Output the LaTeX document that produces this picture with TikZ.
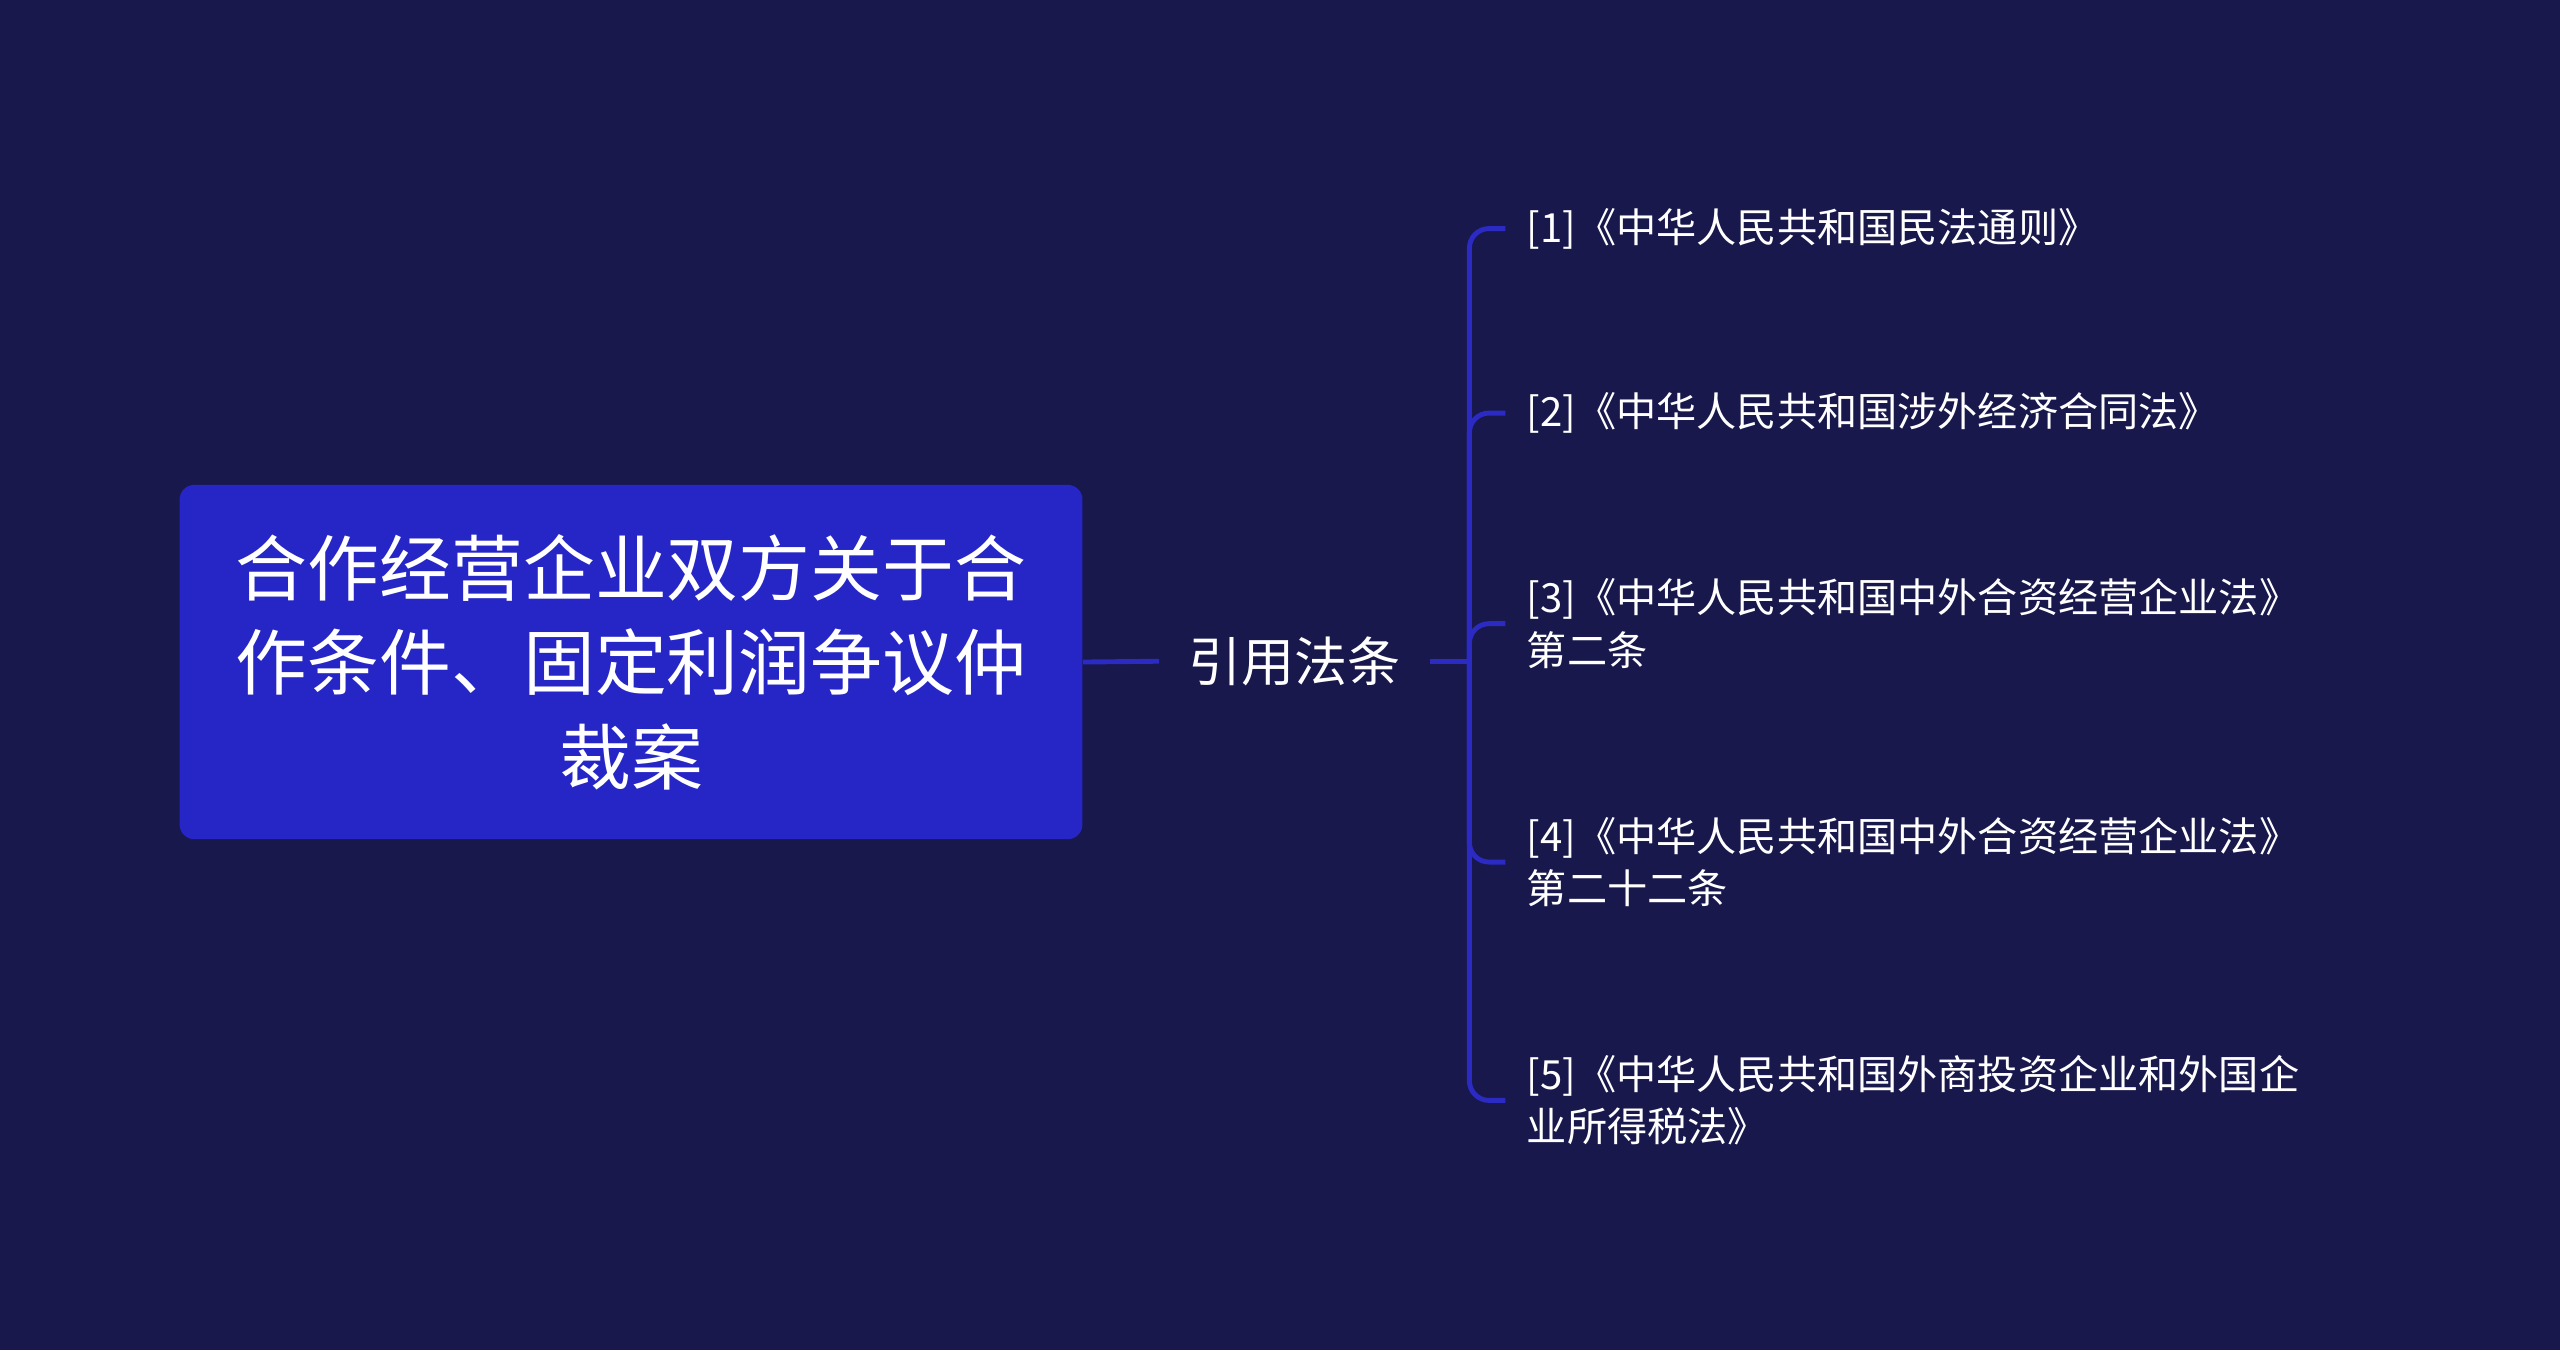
\documentclass[tikz,border=0pt]{standalone}
\usepackage{fontspec}
\setmainfont{Noto Sans CJK SC}
\definecolor{bg}{HTML}{18184C}
\definecolor{boxc}{HTML}{2626C6}
\definecolor{linec}{HTML}{2B2BC4}
\begin{document}
\begin{tikzpicture}[x=1pt,y=-1pt,
  conn/.style={draw=linec,line width=3pt},
  leaf/.style={anchor=west,text=white,font=\fontsize{24.6}{32}\selectfont,align=left,inner sep=0pt}]
\fill[bg] (0,0) rectangle (1568,827);
\useasboundingbox (0,0) rectangle (1568,827);
\node[fill=boxc,rounded corners=9pt,minimum width=553pt,minimum height=217pt,text=white,align=center,font=\fontsize{44}{58}\selectfont] (root) at (386.5,405.5) {合作经营企业双方关于合\\作条件、固定利润争议仲\\裁案};
\node[text=white,font=\fontsize{32.5}{36}\selectfont,inner sep=0pt] (mid) at (793,405) {引用法条};
\coordinate (b) at (900,405);
\draw[conn] (root.east) -- (710,405);
\draw[conn] (876,405) -- (b);
\node[leaf] (c1) at (935,140) {[1]《中华人民共和国民法通则》};
\node[leaf] (c2) at (935,253) {[2]《中华人民共和国涉外经济合同法》};
\node[leaf] (c3) at (935,382) {[3]《中华人民共和国中外合资经营企业法》\\第二条};
\node[leaf] (c4) at (935,528) {[4]《中华人民共和国中外合资经营企业法》\\第二十二条};
\node[leaf] (c5) at (935,674) {[5]《中华人民共和国外商投资企业和外国企\\业所得税法》};
\foreach \y in {140,253,382,528,674}
  \draw[conn,rounded corners=12pt] (b) -- (900,\y) -- (922,\y);
\end{tikzpicture}
\end{document}
